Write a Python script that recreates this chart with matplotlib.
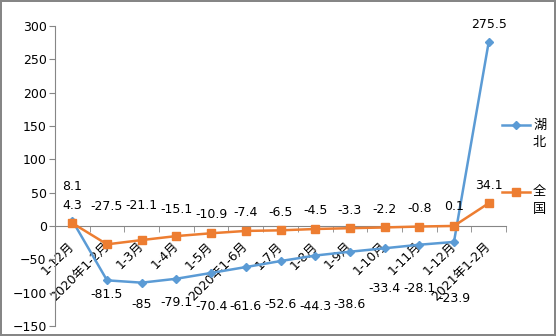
import numpy as np
import matplotlib
matplotlib.use('Agg')
import matplotlib.pyplot as plt
from matplotlib.lines import Line2D

plt.rcParams['font.family'] = ['DejaVu Sans', 'Noto Sans CJK SC']

# data
cats = ['1-12月', '2020年1-2月', '1-3月', '1-4月', '1-5月', '2020年1-6月', '1-7月',
        '1-8月', '1-9月', '1-10月', '1-11月', '1-12月', '2021年1-2月']
hubei = [8.1, -81.5, -85, -79.1, -70.4, -61.6, -52.6, -44.3, -38.6, -33.4, -28.1, -23.9, 275.5]
quanguo = [4.3, -27.5, -21.1, -15.1, -10.9, -7.4, -6.5, -4.5, -3.3, -2.2, -0.8, 0.1, 34.1]

# where the data labels sit (data units)
hubei_lab_y = [60, -103, -117, -115, -120, -120, -117, -120, -118, -93, -93, -108, 303]
quanguo_lab_y = [31, 30, 31, 25, 18, 21, 21, 23, 24, 25, 27, 29, 61]

blue = '#5B9BD5'
orange = '#ED7D31'
grey = '#868686'
fs = 9

fig = plt.figure(figsize=(5.56, 3.36), dpi=100)
fig.patch.set_edgecolor(grey)
fig.patch.set_linewidth(1.5)
ax = fig.add_axes([55/556, 10/336, 451/556, 300/336])

x = np.arange(len(cats))
ax.plot(x, hubei, color=blue, lw=1.8, marker='D', ms=4.5, zorder=3)
ax.plot(x, quanguo, color=orange, lw=1.8, marker='s', ms=6, zorder=4)

for i in range(len(cats)):
    ax.text(x[i], hubei_lab_y[i], f'{hubei[i]:g}', ha='center', va='center',
            fontsize=fs, clip_on=False)
    ax.text(x[i], quanguo_lab_y[i], f'{quanguo[i]:g}', ha='center', va='center',
            fontsize=fs, clip_on=False)

ax.set_xlim(-0.5, len(cats) - 0.5)
ax.set_ylim(-150, 300)
ax.set_yticks(np.arange(-150, 301, 50))

ax.spines['top'].set_visible(False)
ax.spines['right'].set_visible(False)
ax.spines['left'].set_color(grey)
ax.spines['bottom'].set_color(grey)
ax.spines['bottom'].set_position(('data', 0))

ax.set_xticks(x)
ax.set_xticklabels(cats, rotation=45, ha='right', va='center', rotation_mode='anchor')
ax.set_xticks(np.arange(-0.5, len(cats), 1), minor=True)
ax.tick_params(axis='x', which='major', length=0, pad=13, labelsize=fs)
ax.tick_params(axis='x', which='minor', length=4, color=grey, direction='out')
ax.tick_params(axis='y', length=4, color=grey, labelsize=fs, pad=2)

# legend drawn by hand (labels are stacked vertically)
for yy, col, mk, ms, t1, t2 in [(125, blue, 'D', 4.5, '湖', '北'),
                                (192, orange, 's', 6, '全', '国')]:
    yf = 1 - yy/336
    fig.add_artist(Line2D([502/556, 530/556], [yf, yf], color=col, lw=1.8))
    fig.add_artist(Line2D([516/556], [yf], color=col, marker=mk, ms=ms))
    fig.text(533/556, yf, t1, fontsize=9.5, va='center', ha='left')
    fig.text(533/556, yf - 17/336, t2, fontsize=9.5, va='center', ha='left')

fig.savefig('out.png', dpi=100, edgecolor=fig.get_edgecolor())
